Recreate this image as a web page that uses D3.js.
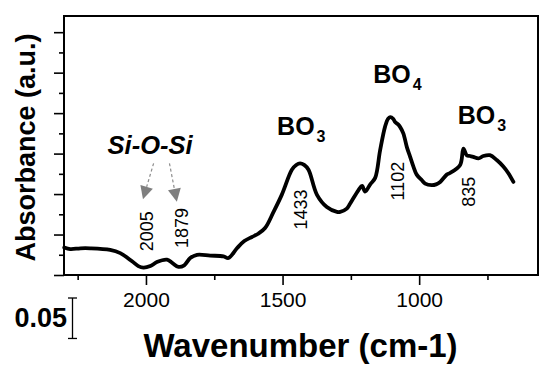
<!DOCTYPE html>
<html>
<head>
<meta charset="utf-8">
<script src="https://cdn.jsdelivr.net/npm/d3@7"></script>
<style>
  body { margin: 0; background: #fff; }
  svg { display: block; font-family: "Liberation Sans", Arial, sans-serif; }
</style>
</head>
<body>
<div id="chart"></div>
<script>
// FTIR spectrum
const wavenumber = [2299, 2277, 2240, 2204, 2131, 2094, 2051, 2028, 2009, 1984,
  1960, 1923, 1904, 1881, 1860, 1838, 1813, 1765, 1716, 1698,
  1667, 1640, 1612, 1589, 1564, 1533, 1503, 1466, 1450, 1436,
  1421, 1405, 1374, 1338, 1301, 1289, 1265, 1253, 1222, 1209,
  1198, 1179, 1161, 1143, 1125, 1114, 1106, 1095, 1088, 1077,
  1070, 1058, 1045, 1033, 1021, 1009, 990, 978, 954, 938,
  923, 899, 887, 850, 838, 826, 814, 802, 783, 765,
  741, 716, 692, 674, 655];
const absorbance = [0.034, 0.032, 0.033, 0.033, 0.031, 0.027, 0.017, 0.011, 0.009, 0.011,
  0.016, 0.019, 0.015, 0.010, 0.012, 0.021, 0.025, 0.024, 0.023, 0.021,
  0.033, 0.042, 0.047, 0.051, 0.058, 0.078, 0.099, 0.130, 0.136, 0.138,
  0.136, 0.130, 0.099, 0.084, 0.078, 0.078, 0.082, 0.088, 0.105, 0.110,
  0.103, 0.112, 0.120, 0.154, 0.183, 0.193, 0.195, 0.193, 0.189, 0.186,
  0.183, 0.175, 0.158, 0.146, 0.134, 0.124, 0.117, 0.113, 0.111, 0.112,
  0.115, 0.124, 0.126, 0.136, 0.156, 0.148, 0.147, 0.146, 0.144, 0.147,
  0.148, 0.142, 0.134, 0.126, 0.115];

const xMajorTicks = [2000, 1500, 1000];
const xMinorTicks = [2250, 1750, 1250, 750];
const yMajorTicks = [0, 0.05, 0.1, 0.15, 0.2, 0.25, 0.3];
const yMinorTicks = [0.025, 0.075, 0.125, 0.175, 0.225, 0.275];

// peak labels: text, wavenumber of label centre, absorbance of label centre
const peakText = ["2005", "1879", "1433", "1102", "835"];
const peakX = [1997, 1869, 1436, 1079, 820];
const peakY = [0.054, 0.058, 0.081, 0.116, 0.103];

// group labels: main text, subscript, left wavenumber, baseline absorbance
const groupText = ["BO", "BO", "BO"];
const groupSub = ["3", "4", "3"];
const groupX = [1520, 1168, 859];
const groupY = [0.173, 0.237, 0.187];

// Si-O-Si arrows: tail and tip positions
const arrowTailX = [1972, 1914];
const arrowTailY = [0.138, 0.138];
const arrowTipX = [2011, 1887];
const arrowTipY = [0.0935, 0.0905];

const width = 550, height = 374;
const margin = { left: 64, right: 12, top: 16, bottom: 99 };

const svg = d3.select("#chart").append("svg")
  .attr("width", width)
  .attr("height", height);

const x = d3.scaleLinear()
  .domain([2300, 565])
  .range([margin.left, width - margin.right]);

const y = d3.scaleLinear()
  .domain([0, 0.32])
  .range([height - margin.bottom, margin.top]);

const x0 = margin.left, x1 = width - margin.right;
const yb = height - margin.bottom, yt = margin.top;

// x axis: major and minor ticks
svg.append("g")
  .attr("transform", `translate(0,${yb})`)
  .call(d3.axisBottom(x).tickValues(xMajorTicks).tickSize(10).tickPadding(7).tickFormat(d3.format("d")))
  .call(g => g.select(".domain").remove())
  .call(g => g.selectAll("line").attr("stroke-width", 1.6))
  .call(g => g.selectAll("text")
    .attr("font-size", 21)
    .attr("font-family", "Liberation Sans, Arial, sans-serif")
    .attr("fill", "#000"));

svg.append("g")
  .attr("transform", `translate(0,${yb})`)
  .call(d3.axisBottom(x).tickValues(xMinorTicks).tickSize(5).tickFormat(""))
  .call(g => g.select(".domain").remove())
  .call(g => g.selectAll("line").attr("stroke-width", 1.6));

// y axis: no labels
svg.append("g")
  .attr("transform", `translate(${x0},0)`)
  .call(d3.axisLeft(y).tickValues(yMajorTicks).tickSize(10).tickFormat(""))
  .call(g => g.select(".domain").remove())
  .call(g => g.selectAll("line").attr("stroke-width", 1.6));

svg.append("g")
  .attr("transform", `translate(${x0},0)`)
  .call(d3.axisLeft(y).tickValues(yMinorTicks).tickSize(5).tickFormat(""))
  .call(g => g.select(".domain").remove())
  .call(g => g.selectAll("line").attr("stroke-width", 1.6));

// frame
svg.append("rect")
  .attr("x", x0).attr("y", yt)
  .attr("width", x1 - x0).attr("height", yb - yt)
  .attr("fill", "none")
  .attr("stroke", "#000")
  .attr("stroke-width", 2);

// spectrum
const points = wavenumber.map((w, i) => [w, absorbance[i]]);
const line = d3.line()
  .x(d => x(d[0]))
  .y(d => y(d[1]))
  .curve(d3.curveCatmullRom.alpha(0.5));

svg.append("path")
  .datum(points)
  .attr("d", line)
  .attr("fill", "none")
  .attr("stroke", "#000")
  .attr("stroke-width", 3.8)
  .attr("stroke-linejoin", "round")
  .attr("stroke-linecap", "round");

// peak position labels (rotated)
svg.append("g")
  .selectAll("text")
  .data(peakText)
  .join("text")
  .attr("transform", (d, i) => `translate(${x(peakX[i]) + 6.5},${y(peakY[i])}) rotate(-90)`)
  .attr("text-anchor", "middle")
  .attr("font-size", 18)
  .attr("fill", "#000")
  .text(d => d);

// BO3 / BO4 labels
const groups = svg.append("g")
  .selectAll("text")
  .data(groupText)
  .join("text")
  .attr("x", (d, i) => x(groupX[i]))
  .attr("y", (d, i) => y(groupY[i]))
  .attr("font-size", 25)
  .attr("font-weight", "bold")
  .attr("fill", "#000");
groups.append("tspan").text(d => d);
groups.append("tspan")
  .attr("dx", 2)
  .attr("dy", 7)
  .attr("font-size", 16)
  .text((d, i) => groupSub[i]);

// Si-O-Si label
svg.append("text")
  .attr("x", x(1985))
  .attr("y", y(0.150))
  .attr("text-anchor", "middle")
  .attr("font-size", 25.5)
  .attr("font-weight", "bold")
  .attr("font-style", "italic")
  .attr("fill", "#000")
  .text("Si-O-Si");

// dashed arrows
const arrows = svg.append("g");
arrowTailX.forEach((tx, i) => {
  const ax = x(tx), ay = y(arrowTailY[i]);
  const bx = x(arrowTipX[i]), by = y(arrowTipY[i]);
  const ang = Math.atan2(by - ay, bx - ax);
  const headLen = 13, headW = 6.5;
  const baseX = bx - headLen * Math.cos(ang), baseY = by - headLen * Math.sin(ang);
  arrows.append("line")
    .attr("x1", ax).attr("y1", ay)
    .attr("x2", baseX).attr("y2", baseY)
    .attr("stroke", "#8c8c8c")
    .attr("stroke-width", 1.2)
    .attr("stroke-dasharray", "3,2.5");
  const px = -Math.sin(ang), py = Math.cos(ang);
  arrows.append("path")
    .attr("d", `M${bx},${by}L${baseX + headW * px},${baseY + headW * py}L${baseX - headW * px},${baseY - headW * py}Z`)
    .attr("fill", "#7f7f7f");
});

// axis titles
svg.append("text")
  .attr("transform", `translate(35,${(yt + yb) / 2 + 2}) rotate(-90)`)
  .attr("text-anchor", "middle")
  .attr("font-size", 27)
  .attr("font-weight", "bold")
  .attr("fill", "#000")
  .text("Absorbance (a.u.)");

svg.append("text")
  .attr("x", 300.5)
  .attr("y", 357)
  .attr("text-anchor", "middle")
  .attr("font-size", 33)
  .attr("font-weight", "bold")
  .attr("fill", "#000")
  .text("Wavenumber (cm-1)");

// 0.05 scale bar
const barLen = y(0) - y(0.05);
const barX = 72.5, barTop = 298;
const bar = svg.append("g").attr("stroke", "#000").attr("stroke-width", 1.3);
bar.append("line").attr("x1", barX).attr("x2", barX).attr("y1", barTop).attr("y2", barTop + barLen);
bar.append("line").attr("x1", barX - 4.5).attr("x2", barX + 4.5).attr("y1", barTop).attr("y2", barTop);
bar.append("line").attr("x1", barX - 4.5).attr("x2", barX + 4.5).attr("y1", barTop + barLen).attr("y2", barTop + barLen);

svg.append("text")
  .attr("x", 67)
  .attr("y", 327)
  .attr("text-anchor", "end")
  .attr("font-size", 27)
  .attr("font-weight", "bold")
  .attr("fill", "#000")
  .text("0.05");
</script>
</body>
</html>
